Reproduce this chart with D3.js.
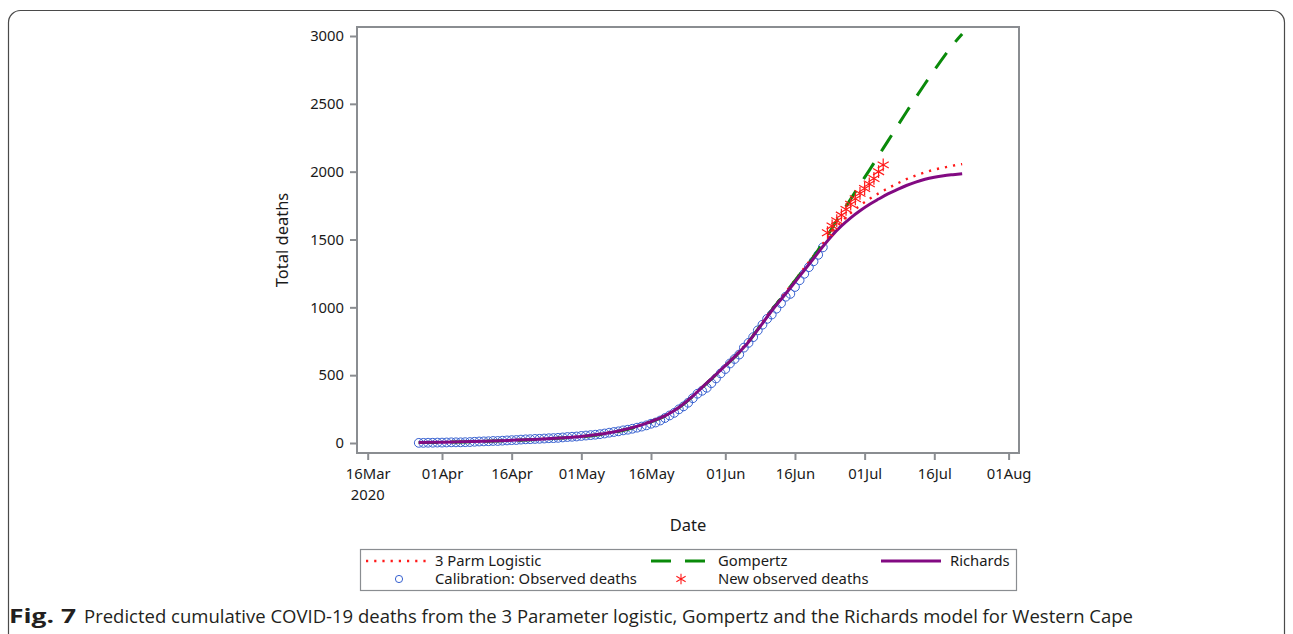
<!DOCTYPE html>
<html>
<head>
<meta charset="utf-8">
<script src="https://cdn.jsdelivr.net/npm/d3@7"></script>
<style>
  html, body { margin: 0; padding: 0; background: #fff; }
  svg { display: block; }
</style>
</head>
<body>
<svg id="chart" width="1293" height="634"></svg>
<script>
// Observed cumulative deaths used for calibration (daily, from 27 Mar 2020)
const calibrationStart = "2020-03-27";
const calibrationDeaths = [
  1, 1, 2, 2, 3, 3, 4, 5, 5, 5,
  6, 7, 9, 11, 12, 13, 15, 15, 17, 19,
  21, 22, 25, 27, 28, 30, 31, 33, 35, 36,
  38, 41, 44, 46, 48, 52, 55, 58, 61, 65,
  70, 76, 81, 86, 93, 98, 105, 113, 121, 130,
  142, 151, 166, 184, 203, 222, 248, 270, 297, 330,
  363, 385, 407, 441, 476, 513, 545, 586, 619, 652,
  703, 738, 780, 830, 872, 915, 947, 990, 1030, 1078,
  1099, 1150, 1200, 1247, 1296, 1339, 1387, 1442
];

// New observed deaths after the calibration window (daily, from 23 Jun 2020)
const newObservedStart = "2020-06-23";
const newObservedDeaths = [
  1550, 1600, 1639, 1680, 1722, 1760, 1800, 1840, 1876, 1910, 1950, 2000, 2050
];

// Fitted model curves, sampled at these dates
const modelDates = [
  "2020-03-27", "2020-04-01", "2020-04-05", "2020-04-10", "2020-04-16", "2020-04-23",
  "2020-05-01", "2020-05-07", "2020-05-12", "2020-05-16", "2020-05-19", "2020-05-22",
  "2020-05-25", "2020-05-27", "2020-05-30", "2020-06-01", "2020-06-04", "2020-06-06",
  "2020-06-08", "2020-06-11", "2020-06-14", "2020-06-17", "2020-06-20", "2020-06-22",
  "2020-06-24", "2020-06-26", "2020-06-28", "2020-06-30", "2020-07-02", "2020-07-04",
  "2020-07-06", "2020-07-08", "2020-07-10", "2020-07-12", "2020-07-14", "2020-07-16",
  "2020-07-18", "2020-07-20", "2020-07-22"
];
const logisticFit = [
  4, 6, 9, 13, 20, 31,
  50, 77, 115, 160, 203, 264,
  347, 412, 507, 572, 675, 752,
  842, 985, 1112, 1245, 1380, 1468,
  1555, 1630, 1695, 1750, 1798, 1840,
  1877, 1912, 1945, 1972, 1995, 2015,
  2030, 2044, 2056
];
const gompertzFit = [
  3, 5, 8, 12, 19, 29,
  47, 73, 111, 156, 198, 260,
  343, 408, 503, 568, 668, 745,
  838, 980, 1110, 1240, 1372, 1475,
  1585, 1692, 1798, 1905, 2010, 2118,
  2225, 2333, 2440, 2545, 2648, 2748,
  2845, 2935, 3015
];
const richardsFit = [
  3, 6, 9, 13, 20, 30,
  48, 75, 113, 158, 200, 262,
  345, 410, 505, 570, 670, 745,
  835, 975, 1100, 1230, 1360, 1448,
  1530, 1600, 1660, 1712, 1758, 1798,
  1836, 1868, 1898, 1923, 1944, 1959,
  1970, 1978, 1985
];

// Axis ticks
const xTickDates = [
  "2020-03-16", "2020-04-01", "2020-04-16", "2020-05-01", "2020-05-16",
  "2020-06-01", "2020-06-16", "2020-07-01", "2020-07-16", "2020-08-01"
];
const yTickValues = [0, 500, 1000, 1500, 2000, 2500, 3000];

// Legend entries
const legendLabels = [
  "3 Parm Logistic", "Gompertz", "Richards",
  "Calibration: Observed deaths", "New observed deaths"
];

const FONT = "'Noto Sans', 'Open Sans', 'DejaVu Sans', sans-serif";
const AXIS_GRAY = "#8a8d91";
const TEXT = "#1a1a1a";
const BLUE = "#3660d0";
const RED = "#ff1a1a";
const GREEN = "#0a8a0a";
const PURPLE = "#820a82";

const parse = d3.utcParse("%Y-%m-%d");
const svg = d3.select("#chart");

// Plot frame
const frame = { left: 357, right: 1019, top: 27, bottom: 453 };

const x = d3.scaleUtc()
  .domain([parse("2020-03-16"), parse("2020-08-01")])
  .range([367.7, 1008.6]);
const y = d3.scaleLinear()
  .domain([0, 3000])
  .range([443, 36]);

// Outer figure card
svg.append("rect")
  .attr("x", 8.5).attr("y", 10.5)
  .attr("width", 1276).attr("height", 640)
  .attr("rx", 12).attr("ry", 12)
  .attr("fill", "none")
  .attr("stroke", "#4a4a4a")
  .attr("stroke-width", 1.2);

// Clip for the data area
svg.append("defs").append("clipPath").attr("id", "plotClip")
  .append("rect")
  .attr("x", frame.left).attr("y", frame.top)
  .attr("width", frame.right - frame.left)
  .attr("height", frame.bottom - frame.top);

// Axes
const xAxis = d3.axisBottom(x)
  .tickValues(xTickDates.map(parse))
  .tickFormat(d3.utcFormat("%d%b"))
  .tickSize(7)
  .tickSizeOuter(0)
  .tickPadding(8);
const gx = svg.append("g")
  .attr("transform", `translate(0,${frame.bottom})`)
  .call(xAxis);
gx.select(".domain").remove();
gx.selectAll(".tick line").attr("stroke", AXIS_GRAY).attr("stroke-width", 2);
gx.selectAll(".tick text")
  .attr("fill", TEXT)
  .style("font-family", FONT)
  .style("font-size", "14.8px");

// Year label under the first date tick
svg.append("text")
  .attr("x", x(parse(xTickDates[0])))
  .attr("y", 500)
  .attr("text-anchor", "middle")
  .attr("fill", TEXT)
  .style("font-family", FONT)
  .style("font-size", "14.8px")
  .text(d3.utcFormat("%Y")(parse(xTickDates[0])));

const yAxis = d3.axisLeft(y)
  .tickValues(yTickValues)
  .tickFormat(d3.format("d"))
  .tickSize(7)
  .tickSizeOuter(0)
  .tickPadding(6);
const gy = svg.append("g")
  .attr("transform", `translate(${frame.left},0)`)
  .call(yAxis);
gy.select(".domain").remove();
gy.selectAll(".tick line").attr("stroke", AXIS_GRAY).attr("stroke-width", 2);
gy.selectAll(".tick text")
  .attr("fill", TEXT)
  .style("font-family", FONT)
  .style("font-size", "14.8px");

// Axis titles
svg.append("text")
  .attr("x", (frame.left + frame.right) / 2)
  .attr("y", 531)
  .attr("text-anchor", "middle")
  .attr("fill", TEXT)
  .style("font-family", FONT)
  .style("font-size", "16.5px")
  .text("Date");
svg.append("text")
  .attr("transform", `translate(288,${(frame.top + frame.bottom) / 2}) rotate(-90)`)
  .attr("text-anchor", "middle")
  .attr("fill", TEXT)
  .style("font-family", FONT)
  .style("font-size", "16.5px")
  .text("Total deaths");

// Data layer
const plot = svg.append("g").attr("clip-path", "url(#plotClip)");

const calStart = parse(calibrationStart);
const calibration = calibrationDeaths.map((v, i) => ({ date: d3.utcDay.offset(calStart, i), value: v }));
const newStart = parse(newObservedStart);
const newObserved = newObservedDeaths.map((v, i) => ({ date: d3.utcDay.offset(newStart, i), value: v }));

plot.append("g").selectAll("circle")
  .data(calibration)
  .join("circle")
  .attr("cx", d => x(d.date))
  .attr("cy", d => y(d.value))
  .attr("r", 4.4)
  .attr("fill", "none")
  .attr("stroke", BLUE)
  .attr("stroke-width", 1);

const line = d3.line()
  .x(d => x(d.date))
  .y(d => y(d.value))
  .curve(d3.curveMonotoneX);
const series = vals => modelDates.map((d, i) => ({ date: parse(d), value: vals[i] }));

plot.append("path")
  .datum(series(logisticFit))
  .attr("d", line)
  .attr("fill", "none")
  .attr("stroke", RED)
  .attr("stroke-width", 2.4)
  .attr("stroke-dasharray", "2.2,6");

plot.append("path")
  .datum(series(gompertzFit))
  .attr("d", line)
  .attr("fill", "none")
  .attr("stroke", GREEN)
  .attr("stroke-width", 3)
  .attr("stroke-dasharray", "19,14");

plot.append("path")
  .datum(series(richardsFit))
  .attr("d", line)
  .attr("fill", "none")
  .attr("stroke", PURPLE)
  .attr("stroke-width", 3);

const star = d3.symbol(d3.symbolAsterisk, 115);
plot.append("g").selectAll("path")
  .data(newObserved)
  .join("path")
  .attr("transform", d => `translate(${x(d.date)},${y(d.value)})`)
  .attr("d", star)
  .attr("fill", "none")
  .attr("stroke", RED)
  .attr("stroke-width", 1.2);

// Plot frame drawn on top
svg.append("rect")
  .attr("x", frame.left).attr("y", frame.top)
  .attr("width", frame.right - frame.left)
  .attr("height", frame.bottom - frame.top)
  .attr("fill", "none")
  .attr("stroke", AXIS_GRAY)
  .attr("stroke-width", 2);

// Legend
const legend = svg.append("g");
legend.append("rect")
  .attr("x", 360.5).attr("y", 549.5)
  .attr("width", 656).attr("height", 41)
  .attr("fill", "none")
  .attr("stroke", AXIS_GRAY)
  .attr("stroke-width", 1.2);

const row1 = 561, row2 = 579;
const legendText = (tx, ty, label) => legend.append("text")
  .attr("x", tx).attr("y", ty)
  .attr("dy", "0.35em")
  .attr("fill", TEXT)
  .style("font-family", FONT)
  .style("font-size", "14.8px")
  .text(label);

legend.append("line")
  .attr("x1", 366).attr("x2", 428).attr("y1", row1).attr("y2", row1)
  .attr("stroke", RED).attr("stroke-width", 2.4).attr("stroke-dasharray", "2.2,6");
legendText(435, row1, legendLabels[0]);

legend.append("line")
  .attr("x1", 651).attr("x2", 706).attr("y1", row1).attr("y2", row1)
  .attr("stroke", GREEN).attr("stroke-width", 3).attr("stroke-dasharray", "20,14");
legendText(718, row1, legendLabels[1]);

legend.append("line")
  .attr("x1", 881).attr("x2", 941).attr("y1", row1).attr("y2", row1)
  .attr("stroke", PURPLE).attr("stroke-width", 3);
legendText(950, row1, legendLabels[2]);

legend.append("circle")
  .attr("cx", 399).attr("cy", row2).attr("r", 3.6)
  .attr("fill", "none").attr("stroke", BLUE).attr("stroke-width", 1);
legendText(435, row2, legendLabels[3]);

legend.append("path")
  .attr("transform", `translate(681,${row2})`)
  .attr("d", d3.symbol(d3.symbolAsterisk, 80))
  .attr("fill", "none").attr("stroke", RED).attr("stroke-width", 1.1);
legendText(718, row2, legendLabels[4]);

// Figure caption
const CAPTION_FONT = "'Liberation Sans Narrow', 'Open Sans', 'Noto Sans', sans-serif";
svg.append("text")
  .attr("x", 9).attr("y", 623)
  .attr("fill", "#231f20")
  .style("font-family", CAPTION_FONT)
  .style("font-size", "19px")
  .style("font-weight", "bold")
  .attr("textLength", 67)
  .attr("lengthAdjust", "spacingAndGlyphs")
  .text("Fig. 7");
svg.append("text")
  .attr("x", 84).attr("y", 623)
  .attr("fill", "#231f20")
  .style("font-family", CAPTION_FONT)
  .style("font-size", "19px")
  .attr("textLength", 1049)
  .attr("lengthAdjust", "spacingAndGlyphs")
  .text("Predicted cumulative COVID-19 deaths from the 3 Parameter logistic, Gompertz and the Richards model for Western Cape");
</script>
</body>
</html>
